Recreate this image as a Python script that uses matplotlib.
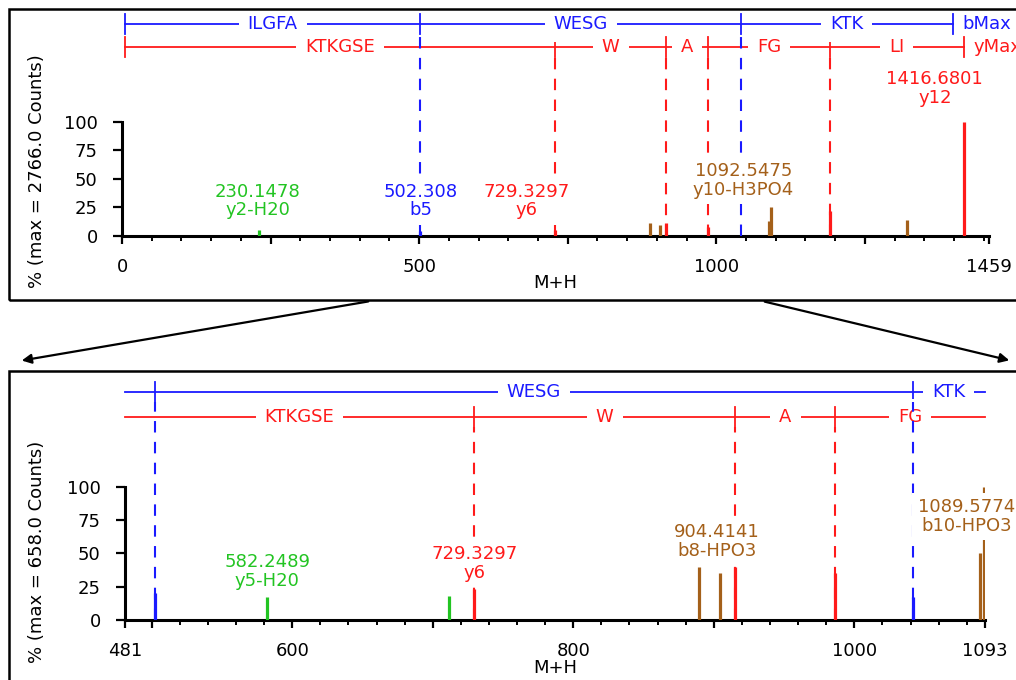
import matplotlib
matplotlib.use("Agg")
import matplotlib.pyplot as plt
from matplotlib.patches import Rectangle, FancyArrowPatch
from matplotlib.ticker import MultipleLocator

# full scan, % of 2766 counts
full_mz = [230.1478, 502.308, 729.3297, 889.0, 906.0, 915.4, 986.5,
           1089.5774, 1092.5475, 1191.0, 1321.0, 1416.6801]
full_pct = [5, 4, 5, 11, 9, 11, 8, 13, 25, 22, 14, 100]
full_ion = ['g', 'b', 'y', 'n', 'n', 'y', 'y', 'n', 'n', 'y', 'n', 'y']
full_lab_mz = [230.1478, 502.308, 729.3297, 1092.5475, 1416.6801]
full_lab_ion = ['y2-H20', 'b5', 'y6', 'y10-H3PO4', 'y12']
full_ticks = [0, 250, 500, 750, 1000, 1250, 1459]
full_ticklabels = ['0', '', '500', '', '1000', '', '1459']

# zoomed region 481-1093, % of 658 counts
zoom_mz = [502.308, 582.2489, 711.8, 729.3297, 889.5, 904.4141, 915.4,
           986.5, 1041.5, 1089.5774, 1092.5475]
zoom_pct = [20, 17, 18, 23, 40, 35, 40, 35, 17, 50, 100]
zoom_ion = ['b', 'g', 'g', 'y', 'n', 'n', 'y', 'y', 'b', 'n', 'n']
zoom_lab_mz = [582.2489, 729.3297, 904.4141, 1089.5774]
zoom_lab_ion = ['y5-H20', 'y6', 'b8-HPO3', 'b10-HPO3']
zoom_ticks = [481, 500, 600, 700, 800, 900, 1000, 1093]
zoom_ticklabels = ['481', '', '600', '', '800', '', '1000', '1093']

# fragment ladders
b_cuts = [5, 502.308, 1041.5, 1398]
b_frags = ['ILGFA', 'WESG', 'KTK']
y_cuts = [5, 729.3297, 915.4, 986.5, 1191.0, 1416.6801]
y_frags = ['KTKGSE', 'W', 'A', 'FG', 'LI']

colors = {'b': '#1a1aff', 'y': '#ff1a1a', 'g': '#22c422', 'n': '#a4601a'}
FS = 13
W, H = 1016, 680

fig = plt.figure(figsize=(W / 100, H / 100), dpi=100)


def box(x0, y0, x1, y1):
    return [x0 / W, 1 - y1 / H, (x1 - x0) / W, (y1 - y0) / H]


def ladder(ax, cuts, frags, yrow, half, color, lo, hi, endtext):
    a, b = max(cuts[0], lo), min(cuts[-1], hi)
    ax.plot([a, b], [yrow, yrow], color=color, lw=1.3, zorder=2, clip_on=False)
    for i, c in enumerate(cuts):
        if lo <= c <= hi:
            ax.plot([c, c], [yrow - half, yrow + half], color=color, lw=1.3, zorder=2)
            if 0 < i < len(cuts) - 1:
                ax.plot([c, c], [0, yrow - half], color=color, lw=1.5,
                        ls=(0, (5.5, 4.5)), zorder=4)
    for s, e, f in zip(cuts[:-1], cuts[1:], frags):
        s, e = max(s, lo), min(e, hi)
        if e - s > 0.04 * (hi - lo):
            ax.text((s + e) / 2, yrow, f, color=color, ha='center', va='center',
                    fontsize=FS, zorder=3,
                    bbox=dict(boxstyle='square,pad=0.5', fc='white', ec='none'))
    if cuts[-1] <= hi:
        ax.annotate(endtext, (cuts[-1], yrow), xytext=(7, 0), textcoords='offset points',
                    ha='left', va='center', color=color, fontsize=FS,
                    annotation_clip=False)


def panel(geom, lo, hi, mz, pct, ion, lab_mz, lab_ion, lab_off,
          ticks, ticklabels, minor, rows, ylabel, ylab_pos, xlab_y):
    left, right, top, y0, y100 = geom
    ax = fig.add_axes(box(left, top, right, y0))
    k = 100 / (y0 - y100)
    ax.set_xlim(lo, hi)
    ax.set_ylim(0, (y0 - top) * k)
    for s in ['top', 'right']:
        ax.spines[s].set_visible(False)
    for s in ['left', 'bottom']:
        ax.spines[s].set_linewidth(2.2)
    ax.spines['left'].set_bounds(0, 100)
    ax.set_yticks([0, 25, 50, 75, 100])
    ax.set_xticks(ticks, ticklabels)
    ax.xaxis.set_minor_locator(MultipleLocator(minor))
    ax.tick_params(axis='x', which='major', length=6, width=1.6, pad=10, labelsize=FS)
    ax.tick_params(axis='x', which='minor', length=3.5, width=1.4)
    ax.tick_params(axis='y', length=6.5, width=1.6, pad=11, labelsize=FS)

    ax.vlines(mz, 0, pct, colors=[colors[c] for c in ion], lw=2.3, zorder=5)
    for m, lab, (dx, dy) in zip(lab_mz, lab_ion, lab_off):
        i = mz.index(m)
        ax.annotate(f"{m}\n{lab}", (m, pct[i]), xytext=(dx * 0.72, dy * 0.72),
                    textcoords='offset points', ha='center', va='center',
                    color=colors[ion[i]], fontsize=FS, linespacing=1.05, zorder=6,
                    annotation_clip=False,
                    bbox=dict(boxstyle='square,pad=0.3', fc='white', ec='none'))

    half = 10 * k
    ladder(ax, b_cuts, b_frags, (y0 - rows[0]) * k, half, colors['b'], lo, hi, 'bMax')
    ladder(ax, y_cuts, y_frags, (y0 - rows[1]) * k, half, colors['y'], lo, hi, 'yMax')

    fig.text(ylab_pos[0] / W, 1 - ylab_pos[1] / H, ylabel, rotation=90,
             ha='center', va='center', fontsize=FS)
    fig.text((left + right) / 2 / W, 1 - xlab_y / H, 'M+H',
             ha='center', va='center', fontsize=FS)
    return ax


panel((122, 989, 10, 235.7, 121.7), 0, 1459, full_mz, full_pct, full_ion,
      full_lab_mz, full_lab_ion, [(-1, 29), (0, 30), (-29, 29), (-28, 27), (-29, 33)],
      full_ticks, full_ticklabels, 50, (24, 47),
      '% (max = 2766.0 Counts)', (37, 171), 283)

panel((125, 985, 375, 620, 486.7), 481, 1093, zoom_mz, zoom_pct, zoom_ion,
      zoom_lab_mz, zoom_lab_ion, [(0, 26), (1, 26), (-3, 32), (-14, 37)],
      zoom_ticks, zoom_ticklabels, 20, (392, 417),
      '% (max = 658.0 Counts)', (37, 552), 668)

# panel frames and zoom arrows
fig.add_artist(Rectangle((9 / W, 1 - 300 / H), 1030 / W, 291 / H,
                         transform=fig.transFigure, fill=False, lw=1.8, ec='black'))
fig.add_artist(Rectangle((9 / W, 1 - 700 / H), 1030 / W, 329 / H,
                         transform=fig.transFigure, fill=False, lw=1.8, ec='black'))
for (xa, ya), (xb, yb) in [((371, 301), (19, 361)), ((762, 301), (1012, 361))]:
    fig.add_artist(FancyArrowPatch((xa / W, 1 - ya / H), (xb / W, 1 - yb / H),
                                   transform=fig.transFigure, arrowstyle='-|>',
                                   mutation_scale=14, lw=1.6, color='black'))

fig.savefig("out.png", dpi=100)
